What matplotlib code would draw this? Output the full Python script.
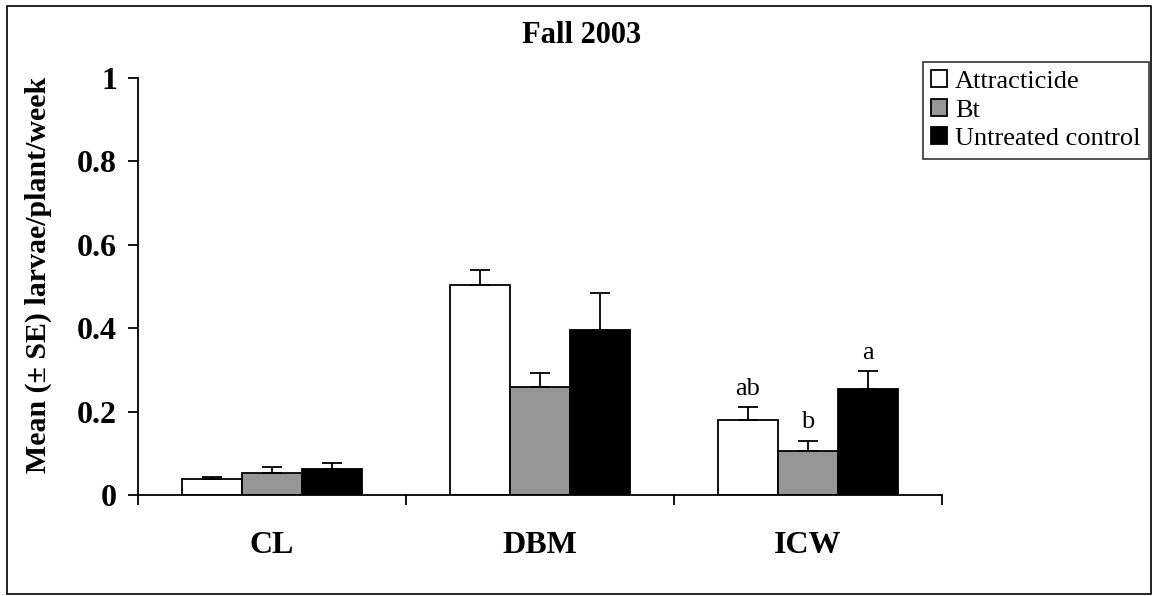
import numpy as np
import matplotlib
matplotlib.use('Agg')
import matplotlib.pyplot as plt
from matplotlib.patches import Rectangle

# data
categories = ['CL', 'DBM', 'ICW']
series = ['Attracticide', 'Bt', 'Untreated control']
means = {
    'Attracticide': [0.038, 0.503, 0.181],
    'Bt': [0.053, 0.259, 0.105],
    'Untreated control': [0.062, 0.395, 0.255],
}
errors = {
    'Attracticide': [0.004, 0.037, 0.029],
    'Bt': [0.014, 0.034, 0.025],
    'Untreated control': [0.014, 0.089, 0.042],
}
# significance letters for ICW
icw_letters = ['ab', 'b', 'a']

colors = ['white', '#969696', 'black']

plt.rcParams['font.family'] = ['Liberation Serif', 'DejaVu Serif']


def main():
    W, H = 1153, 596
    fig = plt.figure(figsize=(W / 100, H / 100), dpi=100)
    ax = fig.add_axes([138 / W, 1 - 495 / H, (942 - 138) / W, (495 - 78) / H])

    centers = np.arange(len(categories)) + 0.5
    width = 0.224
    offsets = [-width, 0, width]

    for i, s in enumerate(series):
        x = centers + offsets[i]
        ax.bar(x, means[s], width, color=colors[i], edgecolor='black',
               linewidth=1.3, label=s, zorder=2)
        ax.errorbar(x, means[s], yerr=[np.zeros(len(x)), errors[s]], fmt='none',
                    ecolor='black', elinewidth=1.3, capsize=7, capthick=1.3, zorder=3)

    # letters above ICW bars
    k = categories.index('ICW')
    for i, s in enumerate(series):
        top = means[s][k] + errors[s][k]
        ax.annotate(icw_letters[i], (centers[k] + offsets[i], top),
                    xytext=(0, 9), textcoords='offset points',
                    ha='center', va='baseline', fontsize=19)

    ax.set_xlim(0, len(categories))
    ax.set_ylim(0, 1)
    ax.set_yticks([0, 0.2, 0.4, 0.6, 0.8, 1])
    ax.set_yticklabels(['0', '0.2', '0.4', '0.6', '0.8', '1'],
                       fontsize=23, fontweight='bold')
    ax.set_xticks(np.arange(len(categories) + 1))
    ax.set_xticklabels([])
    ax.set_xticks(centers, minor=True)
    ax.set_xticklabels(categories, minor=True, fontsize=23, fontweight='bold')
    ax.tick_params(axis='x', which='minor', length=0, pad=26)
    ax.tick_params(axis='both', which='major', direction='out', length=7,
                   width=1.3)
    ax.tick_params(axis='y', pad=8)

    for sp in ['top', 'right']:
        ax.spines[sp].set_visible(False)
    for sp in ['left', 'bottom']:
        ax.spines[sp].set_linewidth(1.3)

    fig.text(38 / W, 1 - 275 / H, 'Mean (\u00b1 SE) larvae/plant/week',
             rotation=90, ha='center', va='center', fontsize=21.5,
             fontweight='bold')
    fig.text(582 / W, 1 - 43 / H, 'Fall 2003', ha='center', va='baseline',
             fontsize=22, fontweight='bold')

    leg = fig.legend(loc='upper left', bbox_to_anchor=(923 / W, 1 - 62 / H),
                     fontsize=19, frameon=True, fancybox=False,
                     edgecolor='black', borderaxespad=0, borderpad=0.32,
                     handlelength=0.6, handleheight=0.6, handletextpad=0.3,
                     labelspacing=0.22)
    leg.get_frame().set_linewidth(1.2)

    # outer border of the chart area
    fig.patches.append(Rectangle((7 / W, 1 - 594 / H), (1151 - 7) / W,
                                 (594 - 6) / H, transform=fig.transFigure,
                                 fill=False, edgecolor='black', linewidth=1.2))

    fig.savefig('out.png', dpi=100)


if __name__ == "__main__":
    main()
